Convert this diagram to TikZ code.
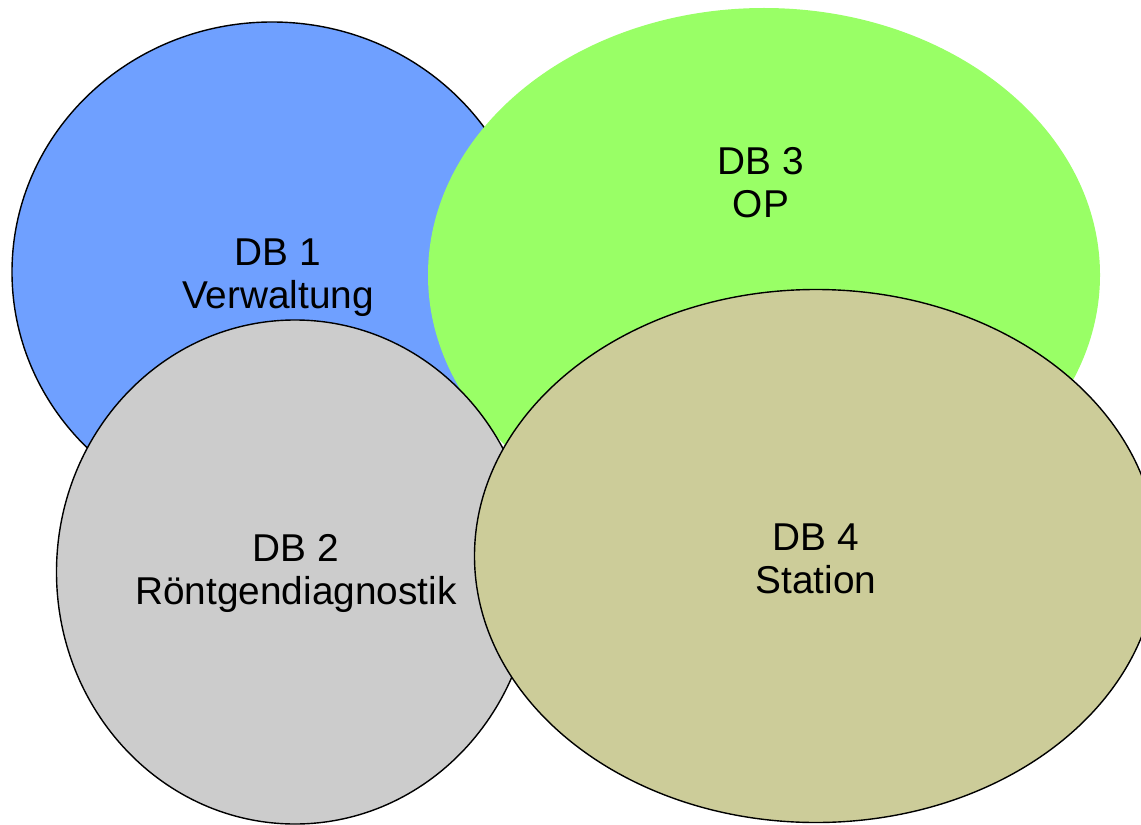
\documentclass[tikz,border=0pt]{standalone}
\usepackage{fontspec}
\setmainfont{Liberation Sans}
\usetikzlibrary{shapes.geometric}
\definecolor{dbblue}{RGB}{111,160,255}
\definecolor{dbgreen}{RGB}{153,255,102}
\definecolor{dbgray}{RGB}{204,204,204}
\definecolor{dbolive}{RGB}{204,204,153}
\tikzset{
  dbset/.style={ellipse, inner sep=0pt, line width=1.4bp},
  dblabel/.style={align=center, inner sep=0pt,
    font=\fontsize{38.8bp}{43bp}\selectfont}
}
\begin{document}
\begin{tikzpicture}[x=1bp, y=-1bp]
  \useasboundingbox (0,0) rectangle (1141,825);
  \clip (0,0) rectangle (1141,825);
  % four overlapping database sets
  \node[dbset, draw=black, fill=dbblue, minimum width=520bp, minimum height=500bp] (db1) at (272,272) {};
  \node[dbset, fill=dbgreen, minimum width=672bp, minimum height=534bp] (db3) at (764,275) {};
  \node[dbset, draw=black, fill=dbgray, minimum width=477bp, minimum height=504bp] (db2) at (295,572) {};
  \node[dbset, draw=black, fill=dbolive, minimum width=683bp, minimum height=533bp] (db4) at (816,556) {};
  % captions
  \node[dblabel] (t1) at (278,278) {DB 1\\Verwaltung};
  \node[dblabel] (t3) at (761,183) {DB 3\\OP};
  \node[dblabel] (t2) at (296,573) {DB 2\\Röntgendiagnostik};
  \node[dblabel] (t4) at (816,559) {DB 4\\Station};
\end{tikzpicture}
\end{document}
